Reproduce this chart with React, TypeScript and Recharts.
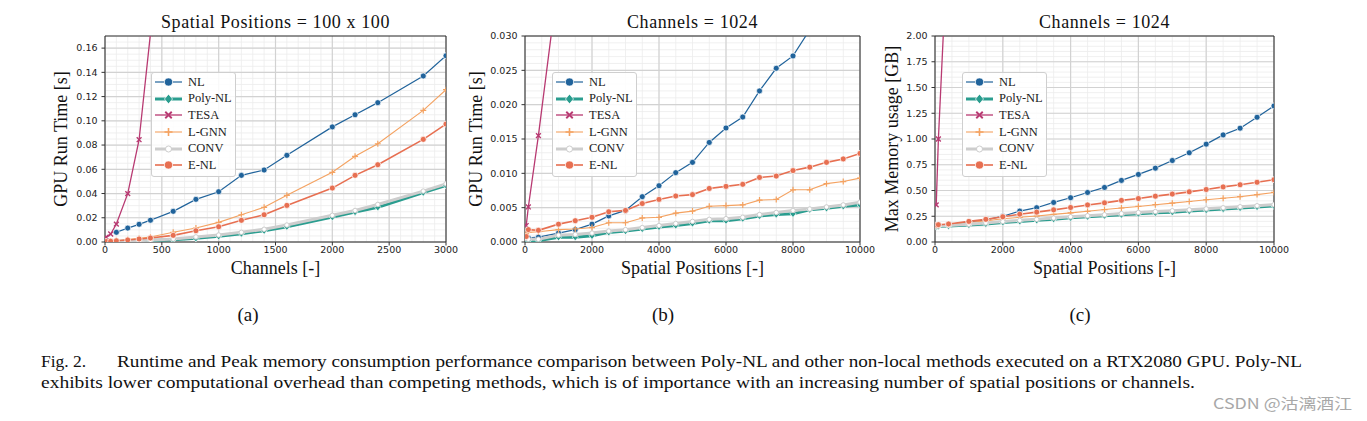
import React from 'react';
import {
  LineChart,
  Line,
  XAxis,
  YAxis,
  CartesianGrid,
  Legend,
  ReferenceArea,
} from 'recharts';

// (a) run time vs channels, 100 x 100 spatial positions
const channelsA = [10, 50, 100, 200, 300, 400, 500, 600, 800, 1000, 1200, 1400, 1600, 2000, 2200, 2400, 2800, 3000];
const nlA = [null, null, 0.008, 0.0115, 0.0146, 0.018, null, 0.0253, 0.0352, 0.0415, 0.055, 0.0594, 0.0715, 0.095, 0.105, 0.115, 0.137, 0.1537];
const polyA = [0.0002, 0.0003, 0.0004, 0.0006, 0.0009, 0.0012, null, 0.0019, 0.003, 0.0047, 0.0069, 0.0093, 0.0126, 0.0206, 0.0247, 0.0286, 0.0407, 0.0467];
const tesaA = [0.004, 0.0066, 0.0148, 0.0399, 0.0844, 0.172, 0.3, null, null, null, null, null, null, null, null, null, null, null];
const lgnnA = [0.0004, 0.0006, 0.001, 0.002, 0.003, 0.0041, null, 0.008, 0.0115, 0.0162, 0.0225, 0.0286, 0.0385, 0.0575, 0.0707, 0.0811, 0.1086, 0.1257];
const convA = [0.0002, 0.0003, 0.0005, 0.0008, 0.0011, 0.0015, null, 0.0025, 0.0042, 0.0058, 0.008, 0.0105, 0.014, 0.022, 0.026, 0.031, 0.042, 0.048];
const enlA = [0.0004, 0.0006, 0.001, 0.0017, 0.0025, 0.0033, null, 0.0055, 0.0093, 0.0126, 0.0179, 0.0225, 0.0302, 0.0445, 0.055, 0.0638, 0.0847, 0.0973];

// (b) run time and (c) peak memory vs spatial positions, 1024 channels
const positions = [36, 100, 400, 1000, 1500, 2000, 2500, 3000, 3500, 4000, 4500, 5000, 5500, 6000, 6500, 7000, 7500, 8000, 8500, 9000, 9500, 10000];
const nlB = [0.0007, 0.0006, 0.0007, 0.0013, 0.0018, 0.0026, 0.0038, 0.0046, 0.0066, 0.0082, 0.0101, 0.0116, 0.0145, 0.0166, 0.0182, 0.022, 0.0253, 0.0271, 0.0309, 0.035, 0.04, 0.045];
const polyB = [0.0003, 0.0002, 0.0002, 0.0007, 0.0007, 0.0009, 0.0014, 0.0016, 0.0019, 0.0022, 0.0024, 0.0027, 0.0031, 0.0031, 0.0034, 0.0038, 0.004, 0.0041, 0.0047, 0.0049, 0.0052, 0.0054];
const tesaB = [0.0024, 0.0051, 0.0155, 0.0385, null, null, null, null, null, null, null, null, null, null, null, null, null, null, null, null, null, null];
const lgnnB = [0.0012, 0.0014, 0.0015, 0.0018, 0.0019, 0.0021, 0.0028, 0.0028, 0.0035, 0.0036, 0.0042, 0.0045, 0.0052, 0.0053, 0.0054, 0.0061, 0.0062, 0.0076, 0.0076, 0.0085, 0.0088, 0.0093];
const convB = [0.0005, 0.0004, 0.0004, 0.001, 0.0011, 0.0013, 0.0016, 0.0018, 0.0021, 0.0024, 0.0027, 0.003, 0.0033, 0.0034, 0.0036, 0.004, 0.0043, 0.0046, 0.0048, 0.0051, 0.0054, 0.0058];
const enlB = [0.0008, 0.0018, 0.0017, 0.0026, 0.0031, 0.0036, 0.0044, 0.0046, 0.0056, 0.0062, 0.0067, 0.0069, 0.0078, 0.0081, 0.0084, 0.0094, 0.0096, 0.0104, 0.0109, 0.0116, 0.0121, 0.0129];

const nlC = [0.16, 0.162, 0.17, 0.195, 0.215, 0.25, 0.3, 0.333, 0.384, 0.43, 0.481, 0.53, 0.598, 0.656, 0.717, 0.791, 0.866, 0.95, 1.04, 1.105, 1.211, 1.321];
const polyC = [0.15, 0.152, 0.155, 0.165, 0.175, 0.19, 0.2, 0.21, 0.222, 0.235, 0.245, 0.255, 0.265, 0.275, 0.283, 0.29, 0.3, 0.31, 0.32, 0.33, 0.34, 0.35];
const tesaC = [0.36, 1.0, 3.1, null, null, null, null, null, null, null, null, null, null, null, null, null, null, null, null, null, null, null];
const lgnnC = [0.158, 0.16, 0.17, 0.19, 0.205, 0.225, 0.24, 0.252, 0.268, 0.283, 0.298, 0.315, 0.33, 0.345, 0.362, 0.377, 0.393, 0.41, 0.425, 0.44, 0.46, 0.481];
const convC = [0.155, 0.157, 0.16, 0.172, 0.185, 0.198, 0.21, 0.22, 0.232, 0.245, 0.255, 0.265, 0.276, 0.286, 0.295, 0.303, 0.312, 0.322, 0.332, 0.342, 0.352, 0.362];
const enlC = [0.165, 0.168, 0.175, 0.2, 0.22, 0.245, 0.27, 0.29, 0.312, 0.335, 0.36, 0.38, 0.404, 0.422, 0.445, 0.465, 0.487, 0.51, 0.535, 0.556, 0.58, 0.605];

// ticks
const xTicksA = [0, 500, 1000, 1500, 2000, 2500, 3000];
const yTicksA = [0, 0.02, 0.04, 0.06, 0.08, 0.1, 0.12, 0.14, 0.16];
const xTicksBC = [0, 2000, 4000, 6000, 8000, 10000];
const yTicksB = [0, 0.005, 0.01, 0.015, 0.02, 0.025, 0.03];
const yTicksC = [0, 0.25, 0.5, 0.75, 1.0, 1.25, 1.5, 1.75, 2.0];

const range = (start: number, stop: number, step: number) => {
  const out: number[] = [];
  const n = Math.round((stop - start) / step);
  for (let i = 0; i <= n; i++) out.push(+(start + i * step).toFixed(6));
  return out;
};

const SERIES = [
  { key: 'NL', color: '#20639b', width: 1.2, marker: 'circle' },
  { key: 'Poly-NL', color: '#2a9d8f', width: 3, marker: 'diamond' },
  { key: 'TESA', color: '#b83a72', width: 1.3, marker: 'x' },
  { key: 'L-GNN', color: '#f4a261', width: 1.1, marker: 'plus' },
  { key: 'CONV', color: '#cdcdcd', width: 3, marker: 'dot' },
  { key: 'E-NL', color: '#e76f51', width: 1.6, marker: 'circle' },
];

const makeRows = (xs: number[], cols: (number | null)[][]) =>
  xs.map((x, i) => {
    const row: Record<string, number | null> = { x };
    SERIES.forEach((s, j) => {
      row[s.key] = cols[j][i];
    });
    return row;
  });

const rowsA = makeRows(channelsA, [nlA, polyA, tesaA, lgnnA, convA, enlA]);
const rowsB = makeRows(positions, [nlB, polyB, tesaB, lgnnB, convB, enlB]);
const rowsC = makeRows(positions, [nlC, polyC, tesaC, lgnnC, convC, enlC]);

const Marker = ({ type, cx, cy, color, scale = 1 }: any) => {
  const r = 3 * scale;
  switch (type) {
    case 'circle':
      return <circle cx={cx} cy={cy} r={r} fill={color} stroke="#fff" strokeWidth={0.7} />;
    case 'diamond':
      return (
        <polygon
          points={`${cx},${cy - r * 1.2} ${cx + r},${cy} ${cx},${cy + r * 1.2} ${cx - r},${cy}`}
          fill={color}
          stroke="#fff"
          strokeWidth={0.7}
        />
      );
    case 'x':
      return (
        <path
          d={`M${cx - r * 0.8},${cy - r * 0.8}L${cx + r * 0.8},${cy + r * 0.8}M${cx - r * 0.8},${cy + r * 0.8}L${cx + r * 0.8},${cy - r * 0.8}`}
          stroke={color}
          strokeWidth={1.4 * scale}
        />
      );
    case 'plus':
      return (
        <path
          d={`M${cx - r},${cy}L${cx + r},${cy}M${cx},${cy - r}L${cx},${cy + r}`}
          stroke={color}
          strokeWidth={1.2 * scale}
        />
      );
    default:
      return <circle cx={cx} cy={cy} r={r * 0.75} fill="#fff" stroke={color} strokeWidth={1} />;
  }
};

const LegendBox = () => (
  <div
    style={{
      width: 85,
      boxSizing: 'border-box',
      background: 'rgba(255,255,255,0.85)',
      border: '1px solid #cfcfcf',
      borderRadius: 3,
      padding: '1px 0 2px 3px',
      fontFamily: '"Liberation Serif", serif',
      fontSize: 12.5,
      color: '#222',
    }}
  >
    {SERIES.map((s) => (
      <div key={s.key} style={{ display: 'flex', alignItems: 'center', height: 16.6 }}>
        <svg width={27} height={12} style={{ marginRight: 6, overflow: 'visible' }}>
          <line x1={0} y1={6} x2={27} y2={6} stroke={s.color} strokeWidth={s.width} />
          <Marker type={s.marker} cx={13.5} cy={6} color={s.color} scale={1.35} />
        </svg>
        <span>{s.key}</span>
      </div>
    ))}
  </div>
);

const W = 420;
const H = 290;
const AXIS_W = 65;
const PLOT_TOP = 36;
const XAXIS_H = 48;
const tickStyle = { fontSize: 9.5, fill: '#222', fontFamily: '"DejaVu Sans", sans-serif' };
const labelFont = '"Liberation Serif", serif';

const Panel = (p: any) => {
  const xTitle = (props: any) => {
    const vb = props.viewBox;
    return (
      <text x={vb.x + vb.width / 2} y={vb.y + 32} textAnchor="middle" fontFamily={labelFont} fontSize={18} fill="#111">
        {p.xLabel}
      </text>
    );
  };
  const yTitle = (props: any) => {
    const vb = props.viewBox;
    const x = vb.x + p.yLabelOffset;
    const y = vb.y + vb.height / 2;
    return (
      <text x={x} y={y} transform={`rotate(-90 ${x} ${y})`} textAnchor="middle" fontFamily={labelFont} fontSize={18} fill="#111">
        {p.yLabel}
      </text>
    );
  };
  return (
    <div style={{ position: 'absolute', left: p.left, top: 0, width: W, height: H }}>
      <div
        style={{
          position: 'absolute',
          left: AXIS_W,
          width: W - AXIS_W - p.rightMargin,
          top: 13,
          textAlign: 'center',
          fontFamily: labelFont,
          fontSize: 18,
          lineHeight: '18px',
          letterSpacing: 0.6,
          color: '#111',
          whiteSpace: 'nowrap',
        }}
      >
        {p.title}
      </div>
      <LineChart width={W} height={H} data={p.rows} margin={{ top: PLOT_TOP, right: p.rightMargin, bottom: 0, left: 0 }}>
        <CartesianGrid horizontalValues={p.yMinor} verticalValues={p.xMinor} stroke="#ececec" strokeWidth={0.8} />
        <CartesianGrid horizontalValues={p.yTicks} verticalValues={p.xTicks} stroke="#d2d2d2" strokeWidth={1.2} />
        <XAxis
          type="number"
          dataKey="x"
          domain={p.xDomain}
          ticks={p.xTicks}
          interval={0}
          allowDataOverflow
          axisLine={false}
          tickLine={{ stroke: '#333' }}
          tickSize={3.5}
          tickMargin={0.5}
          height={XAXIS_H}
          tick={tickStyle}
          label={xTitle}
        />
        <YAxis
          type="number"
          domain={p.yDomain}
          ticks={p.yTicks}
          interval={0}
          allowDataOverflow
          axisLine={false}
          tickLine={{ stroke: '#333' }}
          tickSize={3.5}
          tickMargin={4}
          width={AXIS_W}
          tick={tickStyle}
          tickFormatter={(v: number) => v.toFixed(p.yDigits)}
          label={yTitle}
        />
        <Legend
          layout="horizontal"
          verticalAlign="middle"
          align="center"
          content={() => <LegendBox />}
          wrapperStyle={{ left: p.legendLeft, top: 72, width: 'auto', height: 'auto' }}
        />
        {SERIES.map((s) => (
          <Line
            key={s.key}
            type="linear"
            dataKey={s.key}
            name={s.key}
            stroke={s.color}
            strokeWidth={s.width}
            connectNulls
            activeDot={false}
            isAnimationActive={false}
            dot={(d: any) =>
              d.cx == null || d.cy == null || d.value == null ? (
                <g key={`${s.key}-${d.index}`} />
              ) : (
                <Marker key={`${s.key}-${d.index}`} type={s.marker} cx={d.cx} cy={d.cy} color={s.color} />
              )
            }
          />
        ))}
        <ReferenceArea
          x1={p.xDomain[0]}
          x2={p.xDomain[1]}
          y1={p.yDomain[0]}
          y2={p.yDomain[1]}
          fill="none"
          fillOpacity={0}
          stroke="#2b2b2b"
          strokeWidth={1}
          ifOverflow="visible"
        />
      </LineChart>
    </div>
  );
};

const captionFont = '"Liberation Serif", "Times New Roman", serif';

export default function App() {
  return (
    <div style={{ position: 'absolute', left: 0, top: 0, width: 1367, height: 421, background: '#fff', overflow: 'hidden' }}>
      <svg width={1367} height={421} style={{ position: 'absolute', left: 0, top: 0 }}>
        <g fontFamily={captionFont} fill="#111">
          <text x={248} y={321} fontSize={19} textAnchor="middle">(a)</text>
          <text x={663} y={321} fontSize={19} textAnchor="middle">(b)</text>
          <text x={1080} y={321} fontSize={19} textAnchor="middle">(c)</text>
          <text x={41} y={367} fontSize={17.5}>Fig. 2.</text>
          <text x={117} y={367} fontSize={17.5} textLength={1185} lengthAdjust="spacingAndGlyphs">
            Runtime and Peak memory consumption performance comparison between Poly-NL and other non-local methods executed on a RTX2080 GPU. Poly-NL
          </text>
          <text x={41} y={388} fontSize={17.5} textLength={1154} lengthAdjust="spacingAndGlyphs">
            exhibits lower computational overhead than competing methods, which is of importance with an increasing number of spatial positions or channels.
          </text>
        </g>
        <text
          x={1213}
          y={409}
          fontSize={15}
          fill="#a8a8a8"
          fontFamily='"Noto Sans CJK SC", "Noto Sans", sans-serif'
          textLength={139}
          lengthAdjust="spacingAndGlyphs"
        >
          CSDN @沽漓酒江
        </text>
      </svg>
      <Panel
        left={40}
        rows={rowsA}
        title="Spatial Positions = 100 x 100"
        xLabel="Channels [-]"
        yLabel="GPU Run Time [s]"
        xDomain={[0, 3000]}
        xTicks={xTicksA}
        xMinor={range(0, 3000, 100)}
        yDomain={[0, 0.17]}
        yTicks={yTicksA}
        yMinor={range(0, 0.17, 0.005)}
        yDigits={2}
        rightMargin={14}
        yLabelOffset={27}
        legendLeft={111}
      />
      <Panel
        left={460}
        rows={rowsB}
        title="Channels = 1024"
        xLabel="Spatial Positions [-]"
        yLabel="GPU Run Time [s]"
        xDomain={[0, 10000]}
        xTicks={xTicksBC}
        xMinor={range(0, 10000, 500)}
        yDomain={[0, 0.03]}
        yTicks={yTicksB}
        yMinor={range(0, 0.03, 0.001)}
        yDigits={3}
        rightMargin={20}
        yLabelOffset={22}
        legendLeft={92}
      />
      <Panel
        left={870}
        rows={rowsC}
        title="Channels = 1024"
        xLabel="Spatial Positions [-]"
        yLabel="Max Memory usage [GB]"
        xDomain={[0, 10000]}
        xTicks={xTicksBC}
        xMinor={range(0, 10000, 500)}
        yDomain={[0, 2]}
        yTicks={yTicksC}
        yMinor={range(0, 2, 0.05)}
        yDigits={2}
        rightMargin={16}
        yLabelOffset={28}
        legendLeft={92}
      />
    </div>
  );
}
